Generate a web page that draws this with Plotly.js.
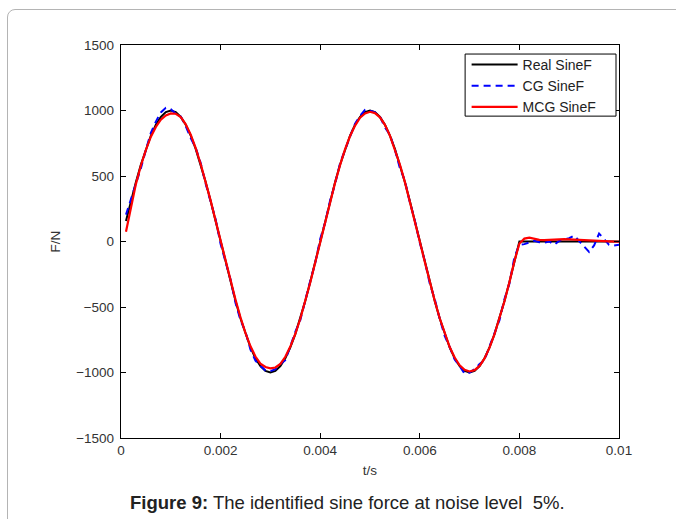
<!DOCTYPE html>
<html>
<head>
<meta charset="utf-8">
<script src="https://cdn.plot.ly/plotly-3.0.1.min.js"></script>
<style>
  html, body { margin: 0; padding: 0; background: #fff; }
  #wrap { position: relative; width: 676px; height: 519px; overflow: hidden; }
  #frame { position: absolute; left: 7px; top: 9px; width: 720px; height: 600px;
           border: 1px solid #b4b4b4; border-radius: 8px; pointer-events: none; z-index: 2; }
  #chart { position: absolute; left: 0; top: 0; width: 676px; height: 519px; }
</style>
</head>
<body>
<div id="wrap">
  <div id="chart"></div>
  <div id="frame"></div>
</div>
<script>
// sample times (s)
const t = [
  0.0001,0.0002,0.0003,0.0004,0.0005,0.0006,0.0007,0.0008,0.0009,0.0010,
  0.0011,0.0012,0.0013,0.0014,0.0015,0.0016,0.0017,0.0018,0.0019,0.0020,
  0.0021,0.0022,0.0023,0.0024,0.0025,0.0026,0.0027,0.0028,0.0029,0.0030,
  0.0031,0.0032,0.0033,0.0034,0.0035,0.0036,0.0037,0.0038,0.0039,0.0040,
  0.0041,0.0042,0.0043,0.0044,0.0045,0.0046,0.0047,0.0048,0.0049,0.0050,
  0.0051,0.0052,0.0053,0.0054,0.0055,0.0056,0.0057,0.0058,0.0059,0.0060,
  0.0061,0.0062,0.0063,0.0064,0.0065,0.0066,0.0067,0.0068,0.0069,0.0070,
  0.0071,0.0072,0.0073,0.0074,0.0075,0.0076,0.0077,0.0078,0.0079,0.0080,
  0.0081,0.0082,0.0083,0.0084,0.0085,0.0086,0.0087,0.0088,0.0089,0.0090,
  0.0091,0.0092,0.0093,0.0094,0.0095,0.0096,0.0097,0.0098,0.0099,0.0100
];

// true applied sine force (N)
const realSineF = [
  156,309,454,588,707,809,891,951,988,1000,
  988,951,891,809,707,588,454,309,156,0,
  -156,-309,-454,-588,-707,-809,-891,-951,-988,-1000,
  -988,-951,-891,-809,-707,-588,-454,-309,-156,0,
  156,309,454,588,707,809,891,951,988,1000,
  988,951,891,809,707,588,454,309,156,0,
  -156,-309,-454,-588,-707,-809,-891,-951,-988,-1000,
  -988,-951,-891,-809,-707,-588,-454,-309,-156,0,
  0,0,0,0,0,0,0,0,0,0,
  0,0,0,0,0,0,0,0,0,0
];

// force identified by conjugate gradient (N)
const cgSineF = [
  205,320,440,560,700,830,915,985,1020,1010,
  975,955,880,790,715,600,440,300,170,-20,
  -160,-290,-470,-600,-690,-825,-910,-945,-985,-990,
  -975,-935,-905,-800,-690,-600,-440,-300,-165,20,
  145,315,440,600,700,800,900,960,1005,1000,
  985,955,870,815,700,560,465,300,160,-10,
  -150,-320,-440,-590,-720,-805,-900,-950,-1010,-1000,
  -975,-935,-905,-800,-700,-600,-440,-320,-120,-25,
  -20,-5,5,-5,-10,0,-25,5,15,25,
  45,5,-40,-80,-30,60,20,-25,-30,-25
];

// force identified by modified conjugate gradient (N)
const mcgSineF = [
  75,270,440,580,700,800,875,930,962,978,
  975,950,895,815,712,592,458,312,158,2,
  -150,-300,-445,-580,-700,-800,-878,-932,-958,-968,
  -962,-935,-880,-802,-706,-590,-458,-313,-160,-5,
  150,305,450,585,705,805,885,945,978,990,
  980,948,890,808,706,588,455,310,157,0,
  -155,-308,-452,-586,-705,-806,-886,-945,-980,-992,
  -982,-950,-892,-810,-708,-590,-456,-310,-150,-15,
  22,30,20,12,10,12,15,18,18,16,
  15,14,12,10,9,6,3,1,-1,-2
];

const seriesNames = ['Real SineF', 'CG SineF', 'MCG SineF'];
const xTicks = [0, 0.002, 0.004, 0.006, 0.008, 0.01];
const yTicks = [-1500, -1000, -500, 0, 500, 1000, 1500];

const traces = [
  { x: t, y: realSineF, name: seriesNames[0], type: 'scatter', mode: 'lines',
    line: { color: '#000000', width: 2 } },
  { x: t, y: cgSineF, name: seriesNames[1], type: 'scatter', mode: 'lines',
    line: { color: '#0000ff', width: 2, dash: '7px,5px' } },
  { x: t, y: mcgSineF, name: seriesNames[2], type: 'scatter', mode: 'lines',
    line: { color: '#ff0000', width: 2.2 } }
];

const tickFont = { family: 'Liberation Sans, Arial, sans-serif', size: 13.5, color: '#333333' };

const layout = {
  width: 676, height: 519,
  margin: { l: 121, r: 57, t: 45, b: 81 },
  paper_bgcolor: 'rgba(0,0,0,0)',
  plot_bgcolor: '#ffffff',
  showlegend: true,
  // legend entries sit inside the framed box drawn as a shape below
  legend: {
    x: 0.694, y: 0.99, xanchor: 'left', yanchor: 'top',
    bgcolor: 'rgba(0,0,0,0)', borderwidth: 0,
    font: { family: 'Liberation Sans, Arial, sans-serif', size: 14, color: '#222222' },
    itemwidth: 46, tracegroupgap: 0
  },
  shapes: [{
    type: 'rect', xref: 'paper', yref: 'paper', layer: 'above',
    x0: 0.691, x1: 0.994, y0: 0.819, y1: 0.977,
    fillcolor: '#ffffff', line: { color: '#000000', width: 1 }
  }],
  xaxis: {
    range: [0, 0.01], tickvals: xTicks, ticktext: xTicks.map(String),
    ticks: 'inside', ticklen: 5, tickcolor: '#000', mirror: 'allticks',
    showline: true, linecolor: '#000', linewidth: 1.2,
    showgrid: false, zeroline: false, tickfont: tickFont,
    title: { text: 't/s', font: tickFont, standoff: 8 }
  },
  yaxis: {
    range: [-1500, 1500], tickvals: yTicks,
    ticks: 'inside', ticklen: 5, tickcolor: '#000', mirror: 'allticks',
    showline: true, linecolor: '#000', linewidth: 1.2, ticklabelstandoff: 3,
    showgrid: false, zeroline: false, tickfont: tickFont,
    title: { text: 'F/N', font: tickFont, standoff: 12 }
  },
  annotations: [{
    xref: 'paper', yref: 'paper', x: 0.454, y: -0.165, xanchor: 'center', yanchor: 'middle',
    showarrow: false,
    text: '<b>Figure 9:</b> The identified sine force at noise level  5%.',
    font: { family: 'Liberation Sans, Arial, sans-serif', size: 18.5, color: '#222222' }
  }]
};

Plotly.newPlot('chart', traces, layout, { staticPlot: true, displayModeBar: false });
</script>
</body>
</html>
